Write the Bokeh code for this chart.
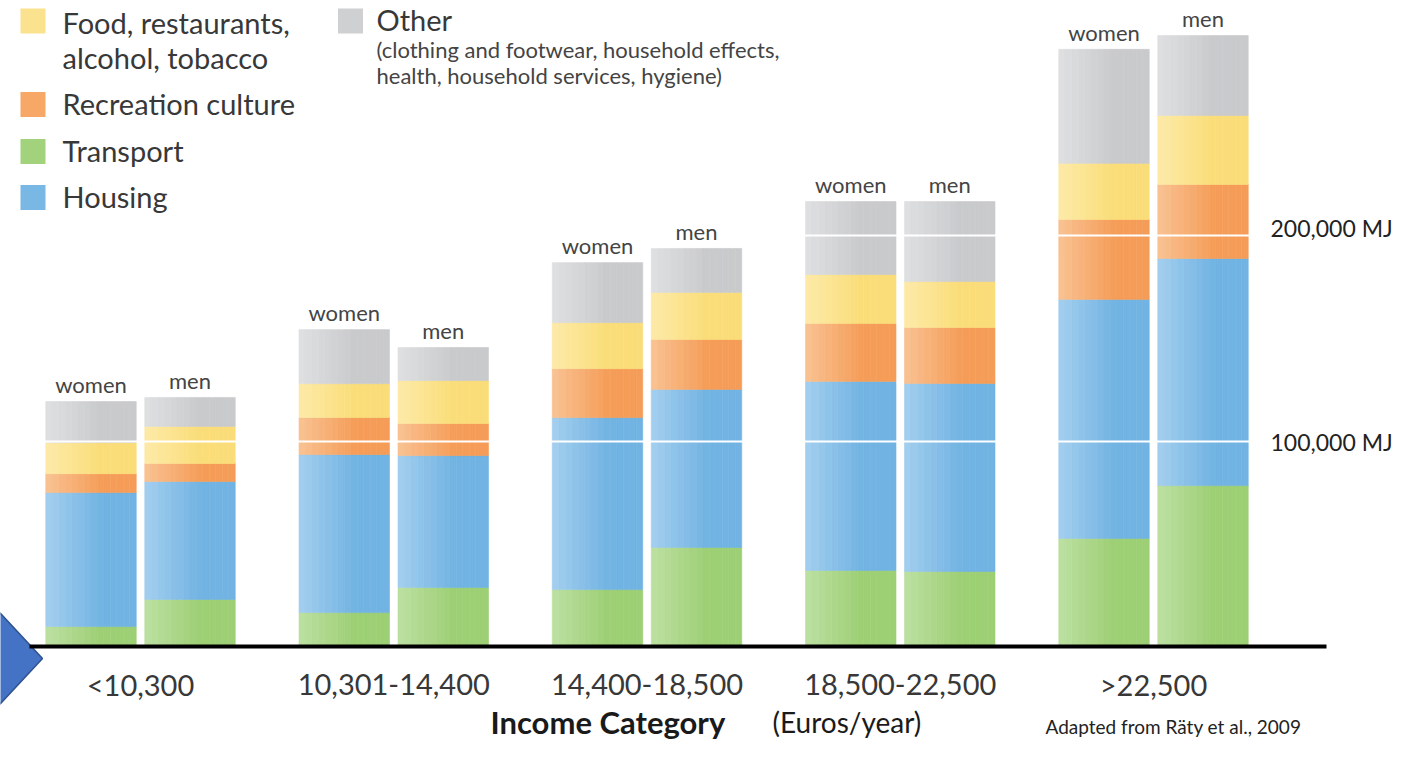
import numpy as np
from bokeh.plotting import figure
from bokeh.models import Range1d, ColumnDataSource, Grid, FixedTicker
from bokeh.core.properties import value
from bokeh.embed import file_html
from bokeh.resources import INLINE

# ---------------- data ----------------
categories = ["<10,300", "10,301-14,400", "14,400-18,500", "18,500-22,500", ">22,500"]
genders = ["women", "men"]

transport_women = [9700, 16500, 27700, 37000, 52600]
transport_men = [22900, 28700, 48200, 36500, 78300]
housing_women = [65200, 76900, 83700, 92000, 116300]
housing_men = [57400, 64200, 76900, 91500, 110500]
recreation_women = [9200, 18000, 23800, 28200, 38900]
recreation_men = [8800, 15600, 24300, 27200, 36000]
food_women = [15100, 16500, 22400, 23800, 27300]
food_men = [18000, 20900, 22900, 22400, 33600]
other_women = [20000, 26300, 29200, 35500, 55500]
other_men = [14100, 16100, 21400, 38900, 38900]

gridline_values = [100000, 200000]
gridline_labels = ["100,000 MJ", "200,000 MJ"]

legend_lines = ["Food, restaurants,", "alcohol, tobacco", "Recreation culture", "Transport", "Housing", "Other"]
other_note = ["(clothing and footwear, household effects,", "health, household services, hygiene)"]

# ---------------- styling ----------------
FONT = value("Lato")
TXT = "#383838"
# (dark, light) gradient ends for each series, bottom to top
series = [
    ("Transport", transport_women, transport_men, "#9dcf74", "#bde0a2"),
    ("Housing", housing_women, housing_men, "#71b3e2", "#a4cfef"),
    ("Recreation culture", recreation_women, recreation_men, "#f59d58", "#f9c293"),
    ("Food", food_women, food_men, "#fadd78", "#fdeaa8"),
    ("Other", other_women, other_men, "#c9cacc", "#dfe0e2"),
]

# layout helpers: reference pixel -> data units
X0_PX, GROUP_PX, Y0_PX, PX_PER_100K = 140.0, 253.25, 646.0, 205.5
def sx(px):
    return (px - X0_PX) / GROUP_PX
def sy(py):
    return (Y0_PX - py) * 100000.0 / PX_PER_100K

W, H = 1398, 741
BAR_W = 90.5 / GROUP_PX
OFFS = {"women": -49.5 / GROUP_PX, "men": 49.5 / GROUP_PX}

p = figure(width=W, height=H, output_backend="svg", toolbar_location=None,
           x_range=Range1d(sx(0), sx(W)), y_range=Range1d(sy(H), sy(0)),
           x_axis_type=None, y_axis_type=None, min_border=0)
p.outline_line_color = None
p.background_fill_color = "white"
p.border_fill_color = "white"

def hex2rgb(h):
    return np.array([int(h[i:i + 2], 16) for i in (1, 3, 5)], dtype=float)
def rgb2hex(c):
    return "#%02x%02x%02x" % tuple(int(round(v)) for v in c)

# build gradient strips for every stacked segment
N = 14
xs, bots, tops, cols = [], [], [], []
totals = {g: [0.0] * len(categories) for g in genders}
for name, wv, mv, dark, light in series:
    d, l = hex2rgb(dark), hex2rgb(light)
    strip_cols = []
    for k in range(N):
        t = min(1.0, ((k + 0.5) / N) / 0.62)
        strip_cols.append(rgb2hex(l * (1 - t) + d * t))
    for g, vals in (("women", wv), ("men", mv)):
        for i, v in enumerate(vals):
            b = totals[g][i]
            for k in range(N):
                xs.append(i + OFFS[g] - BAR_W / 2 + (k + 0.5) * BAR_W / N)
                bots.append(b)
                tops.append(b + v)
                cols.append(strip_cols[k])
            totals[g][i] = b + v

src = ColumnDataSource(dict(x=xs, bottom=bots, top=tops, color=cols))
p.vbar(x="x", bottom="bottom", top="top", width=BAR_W / N, fill_color="color",
       line_color="color", line_width=0.6, source=src)

# white reference lines over the bars
p.add_layout(Grid(dimension=1, ticker=FixedTicker(ticks=gridline_values),
                  grid_line_color="white", grid_line_width=2, level="guide"))

# decorative arrow at lower left
p.patch(x=[sx(-40), sx(42), sx(-40)], y=[sy(570), sy(658), sy(746)],
        fill_color="#4472c4", line_color="#2f528f", line_width=1.5)

# baseline
p.segment(x0=[sx(29)], x1=[sx(1326)], y0=[0], y1=[0], line_color="black", line_width=4)

# women / men labels above bars
lx, ly, lt = [], [], []
for g in genders:
    for i in range(len(categories)):
        lx.append(i + OFFS[g]); ly.append(totals[g][i]); lt.append(g)
p.text(x=lx, y=ly, text=lt, y_offset=-17, text_font=FONT, text_font_size="22px",
       text_color="#444444", text_align="center", text_baseline="middle", level="overlay")

# category labels
p.text(x=list(range(len(categories))), y=[0] * len(categories), text=categories, y_offset=38,
       text_font=FONT, text_font_size="29px", text_color=TXT,
       text_align="center", text_baseline="middle")

# right-hand value labels
p.text(x=[sx(1270)] * 2, y=gridline_values, text=gridline_labels, y_offset=[1, -8],
       text_font=FONT, text_font_size="23px", text_color="#222222",
       text_align="left", text_baseline="middle", level="overlay")

# axis title
p.text(x=[sx(490)], y=[sy(721)], text=["Income Category"], text_font=FONT,
       text_font_size="31px", text_font_style="bold", text_color="#1a1a1a",
       text_align="left", text_baseline="middle")
p.text(x=[sx(772)], y=[sy(721)], text=["(Euros/year)"], text_font=FONT,
       text_font_size="28px", text_color="#1a1a1a",
       text_align="left", text_baseline="middle")
p.text(x=[sx(1045)], y=[sy(726)], text=["Adapted from Räty et al., 2009"], text_font=FONT,
       text_font_size="19px", text_color="#222222", text_align="left", text_baseline="alphabetic")

# legend (manual, two columns)
sw_cols = ["#fbe28e", "#f7a866", "#a2d27c", "#79b7e4", "#cfd0d2"]
sw_px = [(32.5, 20.5), (32.5, 104), (32.5, 151), (32.5, 197), (350, 20.5)]
p.rect(x=[sx(a) for a, b in sw_px], y=[sy(b) for a, b in sw_px], width=25, height=25,
       width_units="screen", height_units="screen", fill_color=sw_cols, line_color=None)
leg_px = [(62, 22), (62, 57), (62, 103), (62, 150), (62, 196), (376, 19)]
p.text(x=[sx(a) for a, b in leg_px], y=[sy(b) for a, b in leg_px], text=legend_lines,
       text_font=FONT, text_font_size="29px", text_color=TXT,
       text_align="left", text_baseline="middle")
p.text(x=[sx(376)] * 2, y=[sy(49), sy(75)], text=other_note,
       text_font=FONT, text_font_size="22px", text_color="#444444",
       text_align="left", text_baseline="middle")

open("out.html", "w").write(file_html(p, INLINE))
